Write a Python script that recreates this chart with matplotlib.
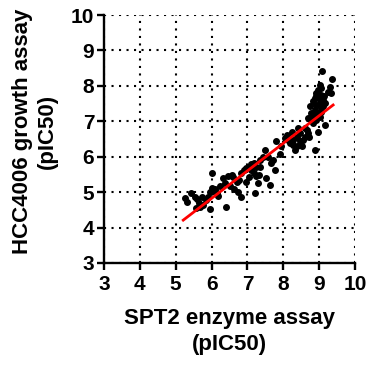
import matplotlib
matplotlib.use("Agg")
import matplotlib.pyplot as plt

# point positions (zoomed-pixel estimates), converted to data units below
zpts = [
    (255,595),(262,605),(275,580),(285,590),(292,598),(298,608),(288,625),(300,620),(310,615),
    (318,600),(325,590),(330,578),(338,572),(332,628),(336,565),(345,568),(350,580),(355,588),(335,520),
    (370,535),(378,620),(385,528),(395,527),(400,532),(375,548),(390,560),(402,568),(415,578),(425,590),
    (418,540),(425,520),(432,510),(440,505),(448,500),(455,492),(462,488),(438,545),(448,530),(462,520),
    (470,528),(465,580),(478,525),(475,548),(500,535),(510,555),(480,480),(490,470),(495,450),(480,500),(470,500),
    (515,490),(520,480),(525,510),(530,425),(540,462),(555,415),(560,405),(575,395),(570,430),(580,435),
    (585,450),(590,440),(600,425),(605,440),(610,420),(600,400),(595,385),(615,410),(625,400),(620,390),
    (628,412),(580,420),
    (645,450),(640,370),(650,360),(630,358),(625,355),(655,395),(660,350),(665,335),(670,320),(675,375),
    (630,320),(640,305),(645,295),(650,290),(660,300),(665,285),(670,300),(675,310),(660,255),(665,265),
    (655,270),(668,213),(697,237),(690,260),(685,275),(693,280),(645,330),(655,340),(660,310),(650,315),
    (650,345),(635,340),(662,325),(672,290),(648,280),(640,345),(615,385),(590,410),(565,420),(545,440),
    (505,470),(455,510),(410,545),(360,560),(305,590),
]
enzyme_pic50 = [round(3 + (zx/3 - 4)/35.9, 2) for zx, zy in zpts]
growth_pic50 = [round(3 + (263 - zy/3)/35.4, 2) for zx, zy in zpts]

fit_x = [5.21, 9.39]
fit_y = [4.21, 7.46]

ticks = [3, 4, 5, 6, 7, 8, 9, 10]

plt.rcParams['font.family'] = ['Liberation Sans', 'DejaVu Sans']
plt.rcParams['font.weight'] = 'bold'

fig = plt.figure(figsize=(3.71, 3.67), dpi=100)
ax = fig.add_axes([104/371, 1-263/367, (355-104)/371, (263-15)/367])

ax.set_xlim(3, 10)
ax.set_ylim(3, 10)
ax.set_xticks(ticks)
ax.set_yticks(ticks)
ax.set_xticklabels([str(t) for t in ticks], fontsize=15, fontweight='bold')
ax.set_yticklabels([str(t) for t in ticks], fontsize=15, fontweight='bold')

ax.grid(True, color='black', linestyle=(0, (1, 2.6)), linewidth=1.5)
ax.set_axisbelow(True)

for s in ['top', 'right']:
    ax.spines[s].set_visible(False)
for s in ['left', 'bottom']:
    ax.spines[s].set_linewidth(1.7)
ax.tick_params(axis='both', direction='out', length=5, width=1.7)
ax.tick_params(axis='x', pad=4)
ax.tick_params(axis='y', pad=2)

ax.scatter(enzyme_pic50, growth_pic50, s=16, color='black', zorder=3, clip_on=False)
ax.plot(fit_x, fit_y, color='#ff0000', linewidth=2, zorder=4)

ax.set_xlabel('SPT2 enzyme assay\n(pIC50)', fontsize=16, fontweight='bold', linespacing=1.3, labelpad=10)
ax.set_ylabel('HCC4006 growth assay\n(pIC50)', fontsize=16, fontweight='bold', linespacing=1.25)
ax.yaxis.set_label_coords(-0.185, 0.53)

fig.savefig('out.png', dpi=100)
